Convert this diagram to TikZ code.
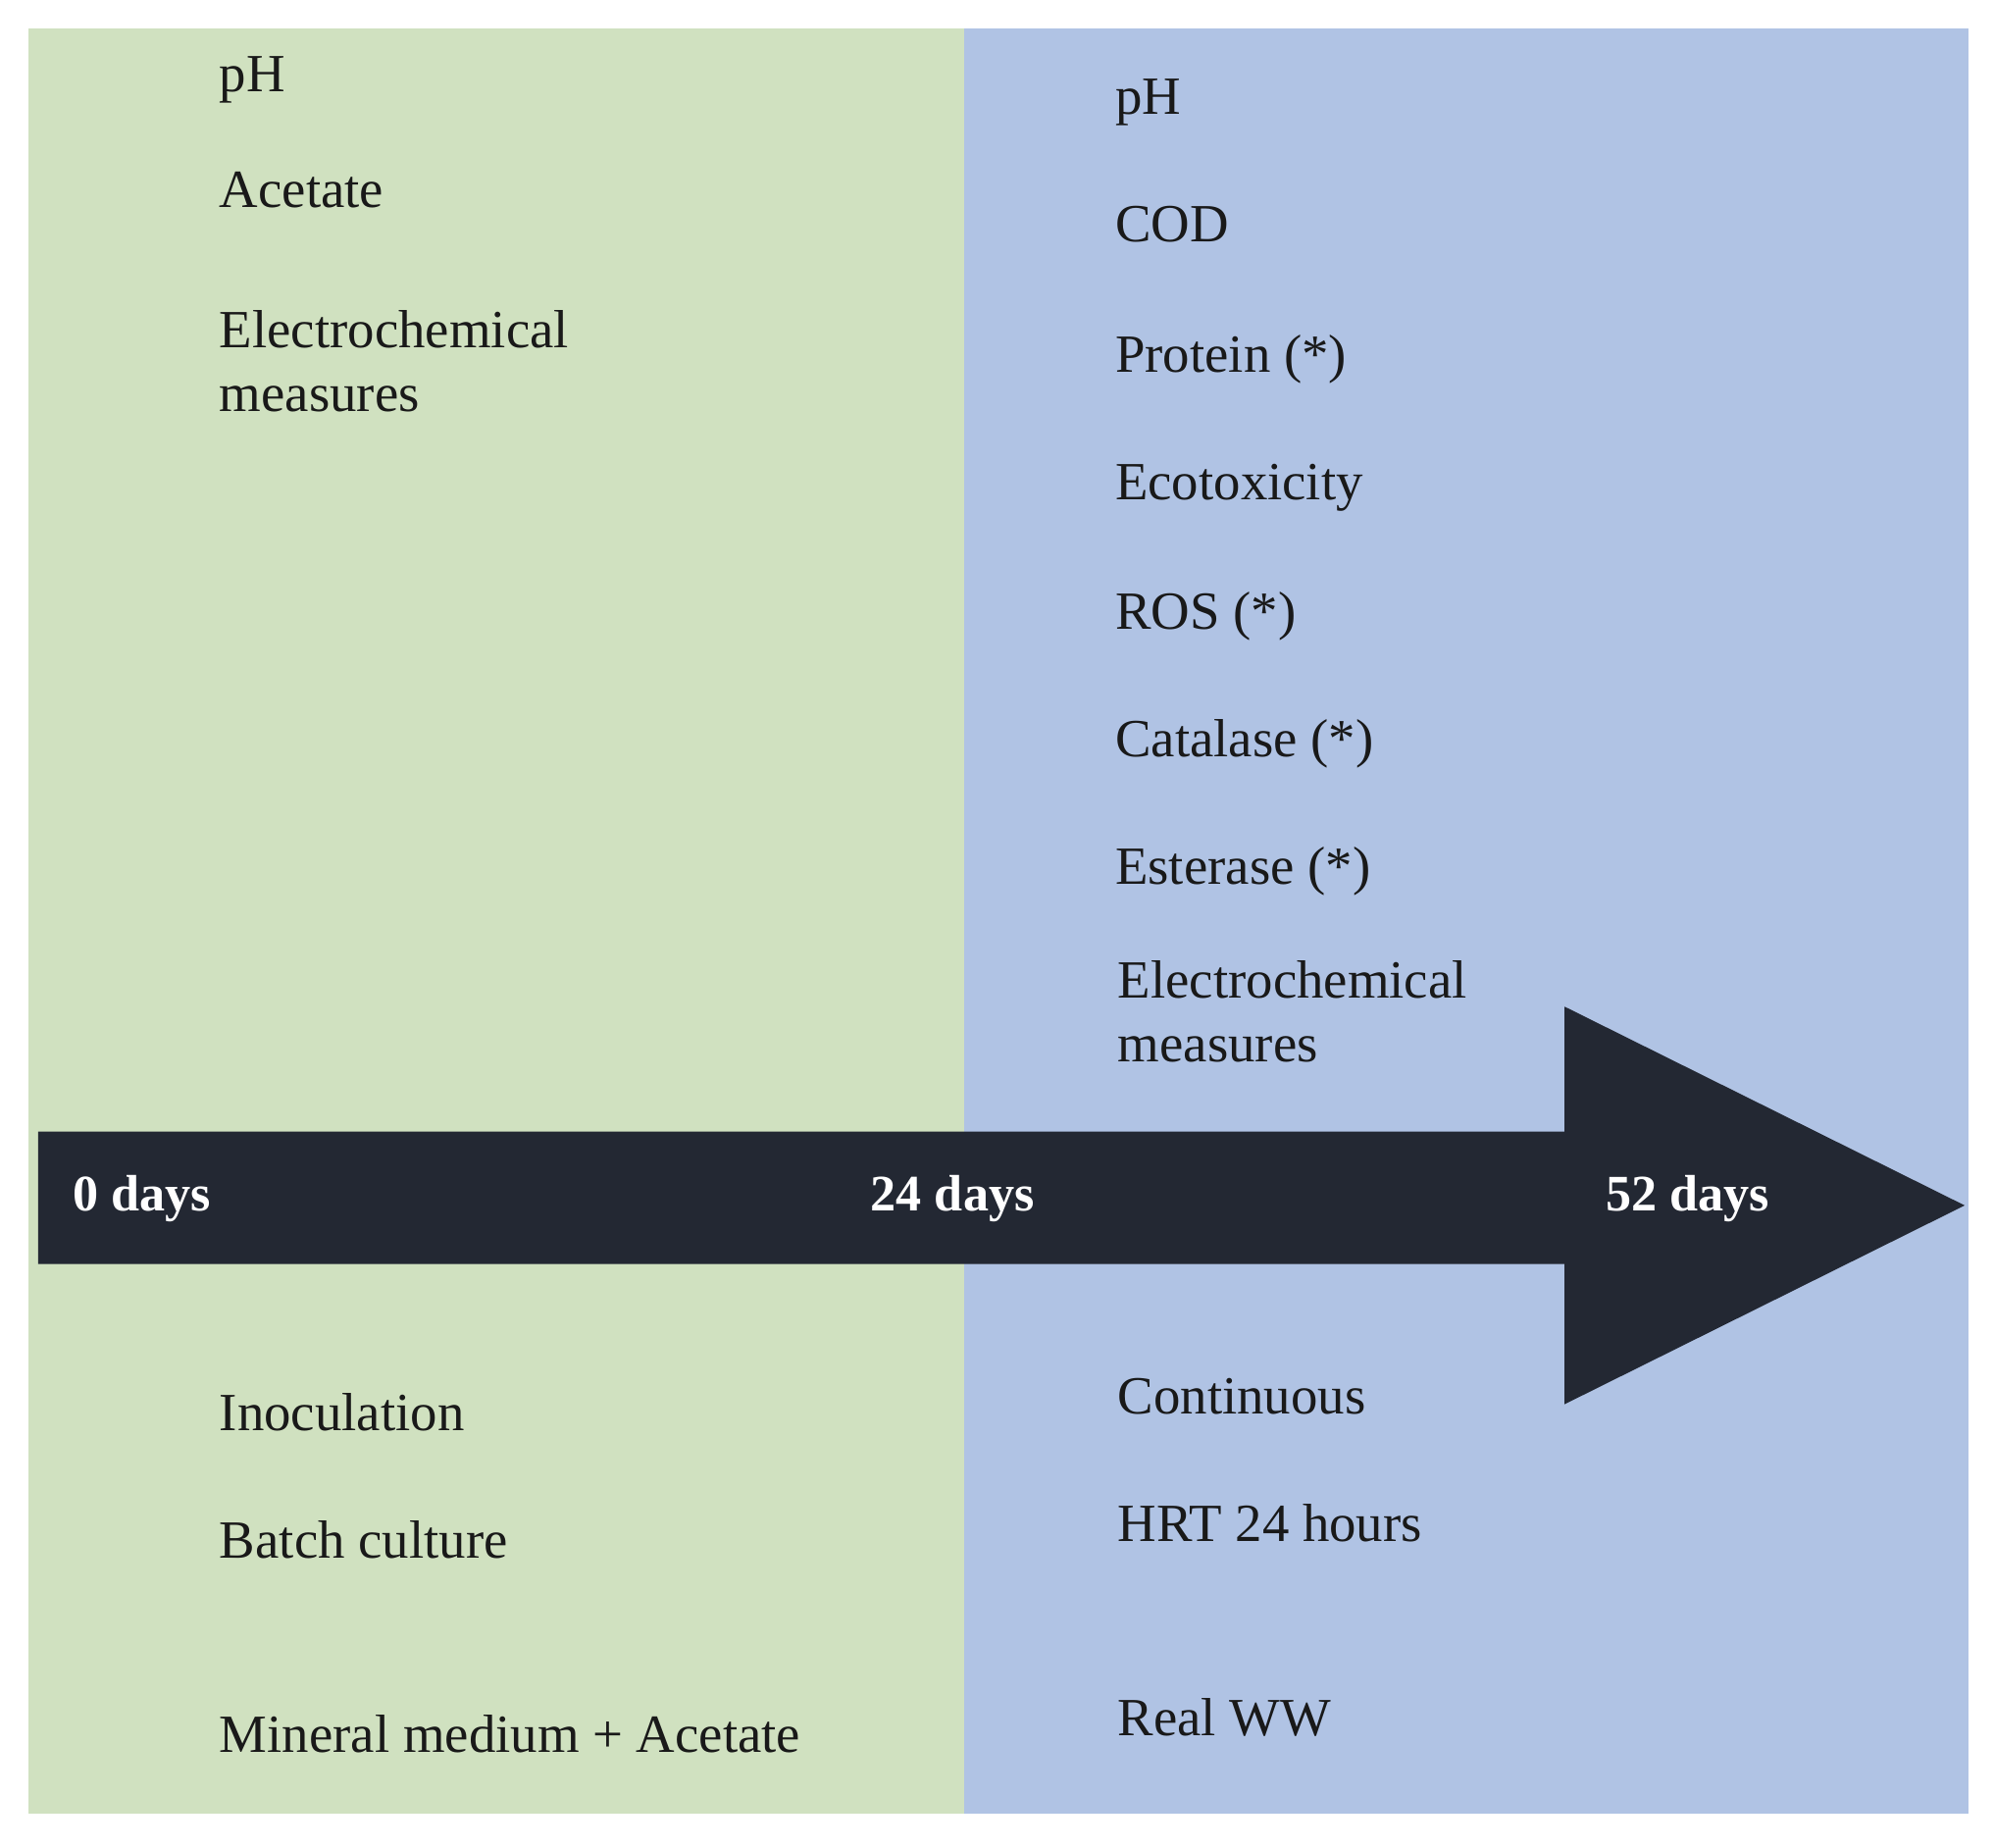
\documentclass[tikz,border=0pt]{standalone}
\usepackage{fontspec}
\setmainfont{Liberation Serif}
\begin{document}
\begin{tikzpicture}[x=0.0175cm,y=-0.0175cm,
  lbl/.style={anchor=base west,inner sep=0,font=\fontsize{21}{24}\selectfont,text=black!90},
  dlbl/.style={anchor=base west,inner sep=0,font=\fontsize{20}{24}\selectfont\bfseries,text=white}]
\definecolor{gr}{HTML}{D0E1C0}
\definecolor{bl}{HTML}{B0C3E4}
\definecolor{dk}{HTML}{232833}
\useasboundingbox[fill=white] (0,0) rectangle (1565,1450);
\fill[gr] (22,22) rectangle (757,1423);
\fill[bl] (757,22) rectangle (1545,1423);
\fill[dk] (30,888) -- (1228,888) -- (1228,790) -- (1542,946) -- (1228,1102) -- (1228,992) -- (30,992) -- cycle;
\node[lbl] (l1) at (172,72) {pH};
\node[lbl] (l2) at (172,163) {Acetate};
\node[lbl] (l3) at (172,273) {Electrochemical};
\node[lbl] (l4) at (172,323) {measures};
\node[lbl] (l5) at (172,1123) {Inoculation};
\node[lbl] (l6) at (172,1223) {Batch culture};
\node[lbl] (l7) at (172,1375) {Mineral medium + Acetate};
\node[lbl] (r1) at (875,90) {pH};
\node[lbl] (r2) at (875,190) {COD};
\node[lbl] (r3) at (875,292) {Protein (*)};
\node[lbl] (r4) at (875,392) {Ecotoxicity};
\node[lbl] (r5) at (875,494) {ROS (*)};
\node[lbl] (r6) at (875,594) {Catalase (*)};
\node[lbl] (r7) at (875,694) {Esterase (*)};
\node[lbl] (r8) at (877,783) {Electrochemical};
\node[lbl] (r9) at (877,833) {measures};
\node[lbl] (r10) at (877,1110) {Continuous};
\node[lbl] (r11) at (877,1210) {HRT 24 hours};
\node[lbl] (r12) at (877,1362) {Real WW};
\node[dlbl] (d0) at (57,950) {0 days};
\node[dlbl] (d24) at (683,950) {24 days};
\node[dlbl] (d52) at (1260,950) {52 days};
\end{tikzpicture}
\end{document}
